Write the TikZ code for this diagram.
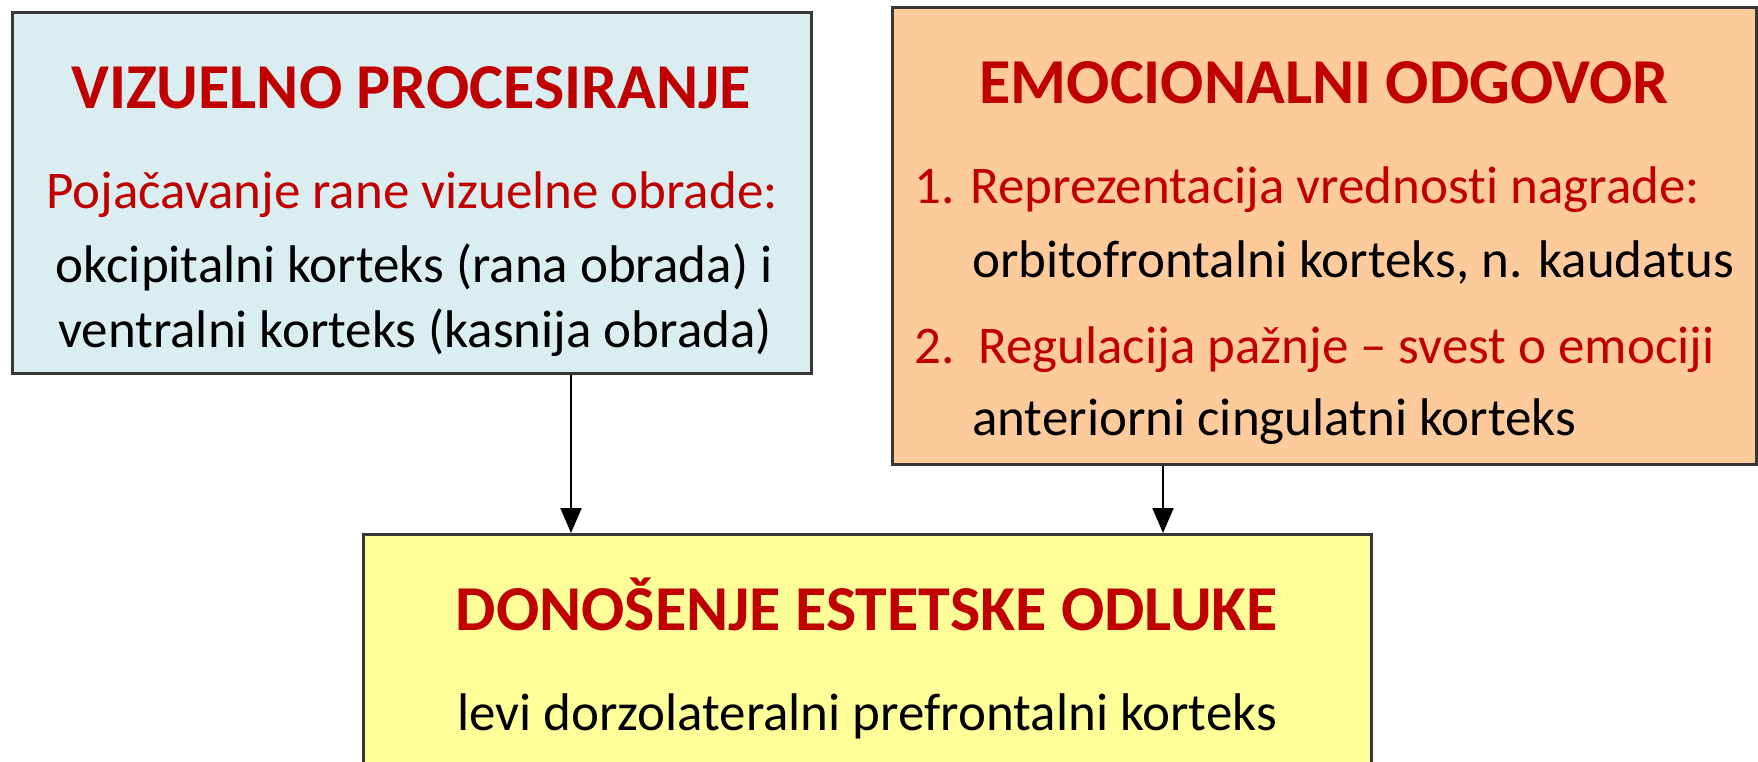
\documentclass[tikz,border=0pt]{standalone}
\usepackage{fontspec}
\setmainfont[Ligatures=NoCommon]{Carlito}
\usetikzlibrary{arrows.meta}

\definecolor{vizfill}{RGB}{218,237,240}
\definecolor{emofill}{RGB}{253,202,155}
\definecolor{odlfill}{RGB}{255,255,153}
\definecolor{txtred}{RGB}{192,0,0}
\definecolor{frame}{RGB}{55,55,55}

\tikzset{
  box/.style={draw=frame, line width=2.6pt, anchor=north west, inner sep=0pt},
  title/.style={anchor=base, inner sep=0pt, text=txtred, font=\fontsize{64}{72}\selectfont\bfseries},
  redline/.style={inner sep=0pt, text=txtred, font=\fontsize{53}{60}\selectfont},
  blkline/.style={inner sep=0pt, text=black, font=\fontsize{53}{60}\selectfont},
  arr/.style={line width=2pt, -{Triangle[length=25pt,width=21pt]}}
}

\begin{document}
\begin{tikzpicture}[x=1pt, y=-1pt]

\useasboundingbox (0,0) rectangle (1758,761);
\clip (0,0) rectangle (1758,761);

% boxes
\node [box, fill=vizfill, minimum width=799pt, minimum height=361pt] (viz) at (11,11) {};
\node [box, fill=emofill, minimum width=864pt, minimum height=457pt] (emo) at (891,6) {};
\node [box, fill=odlfill, minimum width=1008pt, minimum height=300pt] (odl) at (362,533) {};

% visual processing
\node [title] (vizt) at (411,108) {VIZUELNO PROCESIRANJE};
\node [redline, anchor=base] (viz1) at (412,208) {Pojačavanje rane vizuelne obrade:};
\node [blkline, anchor=base] (viz2) at (414,282) {okcipitalni korteks (rana obrada) i};
\node [blkline, anchor=base] (viz3) at (415,347) {ventralni korteks (kasnija obrada)};

% emotional response
\node [title] (emot) at (1324,103) {EMOCIONALNI ODGOVOR};
\node [redline, anchor=base west] (emo1) at (914,203) {1. Reprezentacija vrednosti nagrade:};
\node [blkline, anchor=base west] (emo2) at (972,277) {orbitofrontalni korteks, n. kaudatus};
\node [redline, anchor=base west] (emo3) at (914,363) {2.\ \ Regulacija pažnje – svest o emociji};
\node [blkline, anchor=base west] (emo4) at (972,435) {anteriorni cingulatni korteks};

% decision
\node [title] (odlt) at (867,630) {DONOŠENJE ESTETSKE ODLUKE};
\node [blkline, anchor=base] (odl1) at (867,730) {levi dorzolateralni prefrontalni korteks};

% arrows
\coordinate (vizout) at (571,0);
\coordinate (emoout) at (1163,0);
\draw [arr] (vizout |- viz.south) -- (vizout |- odl.north);
\draw [arr] (emoout |- emo.south) -- (emoout |- odl.north);

\end{tikzpicture}
\end{document}
